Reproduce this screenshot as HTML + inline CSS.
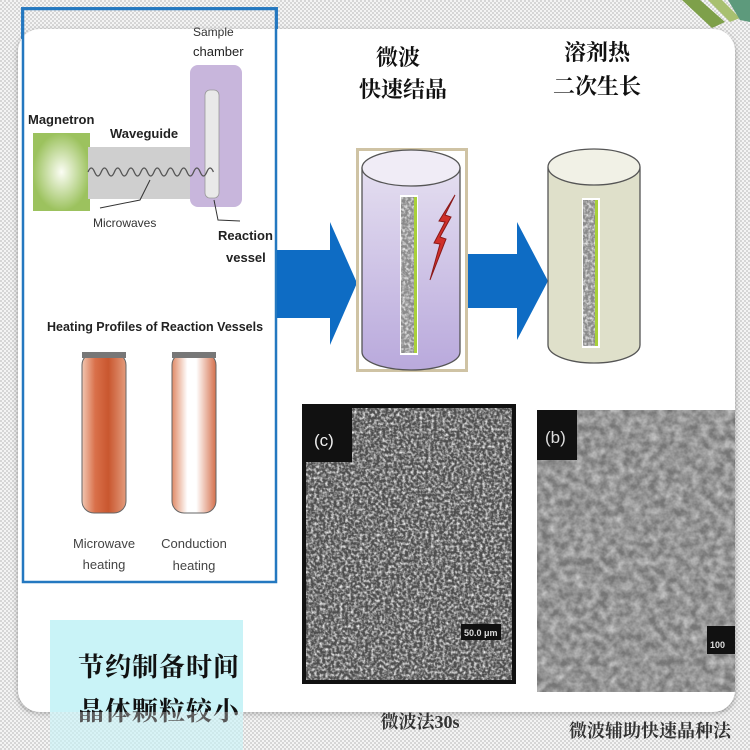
<!DOCTYPE html>
<html><head><meta charset="utf-8"><style>
html,body{margin:0;padding:0;width:750px;height:750px;overflow:hidden;background:#e9e9e9}
svg{display:block}
text{font-family:"Liberation Sans",sans-serif}
.cj{font-family:"Liberation Serif","Noto Serif CJK SC","Noto Sans CJK SC",serif;font-weight:bold}
</style></head><body>
<svg width="750" height="750" viewBox="0 0 750 750" xmlns="http://www.w3.org/2000/svg">
<defs>
<pattern id="chk" width="4" height="4" patternUnits="userSpaceOnUse"><rect width="4" height="4" fill="#f4f4f4"/><rect width="2" height="2" fill="#d6d6d6"/><rect x="2" y="2" width="2" height="2" fill="#d6d6d6"/></pattern>
<filter id="n1" x="0" y="0" width="1" height="1"><feTurbulence type="fractalNoise" baseFrequency="0.35" numOctaves="2" seed="3"/><feColorMatrix type="matrix" values="0 0 0 0 0.85  0 0 0 0 0.85  0 0 0 0 0.85  2.2 0 0 0 -0.85"/></filter>
<filter id="n2" x="0" y="0" width="1" height="1"><feTurbulence type="fractalNoise" baseFrequency="0.12" numOctaves="3" seed="7"/><feColorMatrix type="matrix" values="0 0 0 0 0.62  0 0 0 0 0.62  0 0 0 0 0.62  1.4 0 0 0 -0.35"/></filter>
<filter id="n3" x="0" y="0" width="1" height="1"><feTurbulence type="fractalNoise" baseFrequency="0.6" numOctaves="2" seed="5"/><feColorMatrix type="matrix" values="0 0 0 0 0.2  0 0 0 0 0.2  0 0 0 0 0.2  1.5 0 0 0 -0.4"/></filter>
<linearGradient id="mw" x1="0" x2="1"><stop offset="0" stop-color="#f1c7b2"/><stop offset=".3" stop-color="#d9704a"/><stop offset=".6" stop-color="#c9572f"/><stop offset="1" stop-color="#e39b7c"/></linearGradient>
<linearGradient id="cd" x1="0" x2="1"><stop offset="0" stop-color="#e08a66"/><stop offset=".35" stop-color="#fff"/><stop offset=".55" stop-color="#fff"/><stop offset="1" stop-color="#d5704c"/></linearGradient>
<radialGradient id="mg"><stop offset="0" stop-color="#fbfdf4"/><stop offset="1" stop-color="#9cc25e"/></radialGradient>
<linearGradient id="pu" x1="0" y1="0" x2="0" y2="1"><stop offset="0" stop-color="#e4def0"/><stop offset="1" stop-color="#b9a9dc"/></linearGradient>
<filter id="sh"><feDropShadow dx="0" dy="2" stdDeviation="3" flood-color="#000" flood-opacity=".35"/></filter>
</defs>
<rect width="750" height="750" fill="url(#chk)"/>
<path d="M682 0 L700 0 L725 22 L712 28 Z" fill="#7ea04a"/>
<path d="M708 0 L722 0 L740 18 L730 22 Z" fill="#a8c070"/>
<path d="M728 0 L750 0 L750 22 L740 20 Z" fill="#5d9a7c"/>
<rect x="22" y="8" width="255" height="30" fill="none" stroke="#2e7cc0" stroke-width="2"/>
<rect x="18" y="29" width="717" height="683" rx="22" fill="#fff" filter="url(#sh)"/>
<rect x="23" y="9" width="253" height="573" fill="none" stroke="#2478c0" stroke-width="2.5"/>
<text x="28" y="124" font-size="13" font-weight="bold" fill="#222">Magnetron</text>
<text x="110" y="138" font-size="13" font-weight="bold" fill="#222">Waveguide</text>
<text x="193" y="36" font-size="12" fill="#333">Sample</text>
<text x="193" y="56" font-size="13" fill="#222">chamber</text>
<rect x="33" y="133" width="57" height="78" fill="url(#mg)"/>
<rect x="88" y="147" width="105" height="52" fill="#cfcfcf"/>
<rect x="190" y="65" width="52" height="142" rx="8" fill="#c8b6dc"/>
<rect x="205" y="90" width="14" height="108" rx="5" fill="#e9e9e9" stroke="#999" stroke-width=".8"/>
<path d="M88 172 q3.3 -8 6.6 0 t6.6 0 t6.6 0 t6.6 0 t6.6 0 t6.6 0 t6.6 0 t6.6 0 t6.6 0 t6.6 0 t6.6 0 t6.6 0 t6.6 0 t6.6 0 t6.6 0 t6.6 0 t6.6 0 t6.6 0 t6.6 0" fill="none" stroke="#555" stroke-width="1.3"/>
<path d="M150 180 L140 200 L100 208" fill="none" stroke="#333" stroke-width="1"/>
<text x="93" y="227" font-size="12" fill="#333">Microwaves</text>
<path d="M214 200 L218 220 L240 221" fill="none" stroke="#333" stroke-width="1"/>
<text x="218" y="240" font-size="13" font-weight="bold" fill="#222">Reaction</text>
<text x="226" y="262" font-size="13" font-weight="bold" fill="#222">vessel</text>
<text x="47" y="331" font-size="12.5" font-weight="bold" fill="#222">Heating Profiles of Reaction Vessels</text>
<rect x="82" y="353" width="44" height="160" rx="12" fill="url(#mw)" stroke="#666" stroke-width="1"/>
<rect x="82" y="352" width="44" height="6" fill="#777"/>
<rect x="172" y="353" width="44" height="160" rx="12" fill="url(#cd)" stroke="#666" stroke-width="1"/>
<rect x="172" y="352" width="44" height="6" fill="#777"/>
<text x="104" y="548" font-size="13" fill="#444" text-anchor="middle">Microwave</text>
<text x="104" y="569" font-size="13" fill="#444" text-anchor="middle">heating</text>
<text x="194" y="548" font-size="13" fill="#444" text-anchor="middle">Conduction</text>
<text x="194" y="570" font-size="13" fill="#444" text-anchor="middle">heating</text>
<path d="M277 250 L330 250 L330 222 L357 283 L330 345 L330 318 L277 318 Z" fill="#0e6cc4"/>
<path d="M467 254 L517 254 L517 222 L548 281 L517 340 L517 308 L467 308 Z" fill="#0e6cc4"/>
<text class="cj" x="398" y="65" font-size="22" text-anchor="middle" fill="#111">微波</text>
<text class="cj" x="403" y="97" font-size="22" text-anchor="middle" fill="#111">快速结晶</text>
<text class="cj" x="597" y="60" font-size="22" text-anchor="middle" fill="#111">溶剂热</text>
<text class="cj" x="597" y="94" font-size="22" text-anchor="middle" fill="#111">二次生长</text>
<rect x="356" y="148" width="112" height="224" fill="#cfc3a4"/>
<rect x="359" y="151" width="106" height="218" fill="#fff"/>
<path d="M362 168 L362 352 A49 18 0 0 0 460 352 L460 168 Z" fill="url(#pu)" stroke="#555" stroke-width="1.3"/>
<ellipse cx="411" cy="168" rx="49" ry="18" fill="#f0ecf6" stroke="#555" stroke-width="1.3"/>
<rect x="400" y="195" width="18" height="160" fill="#fff"/>
<rect x="401" y="197" width="13" height="156" fill="#8a8a8a"/>
<rect x="401" y="197" width="13" height="156" filter="url(#n1)"/>
<rect x="414" y="197" width="3" height="156" fill="#a8d03a"/>
<path d="M455 195 L445 215 L451 217 L440 237 L446 239 L430 280 L440 244 L434 243 L445 222 L439 221 L452 200 Z" fill="#d0302a" stroke="#8a1818" stroke-width="1"/>
<path d="M548 168 L548 345 A46 18 0 0 0 640 345 L640 168 Z" fill="#dfe0ca" stroke="#555" stroke-width="1.3"/>
<ellipse cx="594" cy="167" rx="46" ry="18" fill="#f1f1e6" stroke="#555" stroke-width="1.3"/>
<rect x="582" y="198" width="18" height="150" fill="#fff"/>
<rect x="583" y="200" width="12" height="146" fill="#8a8a8a"/>
<rect x="583" y="200" width="12" height="146" filter="url(#n1)"/>
<rect x="595" y="200" width="3" height="146" fill="#a8d03a"/>
<rect x="302" y="404" width="214" height="280" fill="#111"/>
<rect x="306" y="408" width="206" height="272" fill="#4e4e4e"/>
<rect x="306" y="408" width="206" height="272" filter="url(#n1)"/>
<rect x="304" y="406" width="48" height="56" fill="#111"/>
<text x="314" y="446" font-size="17" fill="#eee">(c)</text>
<rect x="461" y="624" width="40" height="16" fill="#111"/>
<text x="464" y="636" font-size="9" fill="#ddd" font-weight="bold">50.0 μm</text>
<rect x="537" y="410" width="198" height="282" fill="#767676"/>
<rect x="537" y="410" width="198" height="282" filter="url(#n2)"/>
<rect x="537" y="410" width="40" height="50" fill="#111"/>
<text x="545" y="443" font-size="17" fill="#ddd">(b)</text>
<rect x="707" y="626" width="28" height="28" fill="#111"/>
<text x="710" y="648" font-size="9" fill="#ddd" font-weight="bold">100</text>
<rect x="50" y="620" width="193" height="130" fill="#c9f3f7"/>
<text class="cj" x="78" y="676" font-size="26" fill="#111" letter-spacing="1">节约制备时间</text>
<text class="cj" x="78" y="720" font-size="26" fill="#111" letter-spacing="1">晶体颗粒较小</text>
<rect x="18" y="712" width="717" height="38" fill="url(#chk)" opacity=".35"/>
<text class="cj" x="420" y="728" font-size="18" fill="#333" text-anchor="middle">微波法30s</text>
<text class="cj" x="650" y="737" font-size="18" fill="#333" text-anchor="middle">微波辅助快速晶种法</text>
</svg>
</body></html>
